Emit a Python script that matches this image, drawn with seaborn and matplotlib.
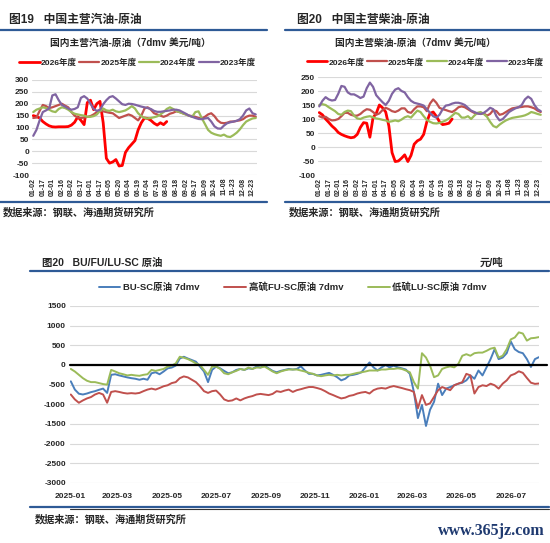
import matplotlib
matplotlib.use("Agg")
import matplotlib.dates as mdates
import matplotlib.pyplot as plt
import pandas as pd
import seaborn as sns
from matplotlib.lines import Line2D

W, H = 550, 543

# ---- top panels: trading-day index, 3 points per label interval ----
day_labels = ["01-02", "01-17", "02-01", "02-16", "03-02", "03-17", "04-01", "04-17",
              "05-05", "05-20", "06-04", "06-19", "07-04", "07-19", "08-03", "08-18",
              "09-02", "09-17", "10-09", "10-24", "11-08", "11-23", "12-08", "12-23"]
year_names = ["2026年度", "2025年度", "2024年度", "2023年度"]
year_colors = ["#FF0000", "#C0504D", "#9BBB59", "#8064A2"]

gasoline_2026 = [150, 146, 140, 125, 115, 107, 103, 102, 103, 103,
                 103, 104, 110, 122, 145, 130, 112, 205, 215, 175,
                 200, 210, 120, -30, -50, -45, -35, -62, -60, -5,
                 15, 30, 45, 90, 120, 140, 138, 130, 118, 110,
                 120, 112, 125]
gasoline_2025 = [140, 142, 170, 195, 190, 182, 185, 190, 195, 200,
                 192, 185, 165, 150, 142, 140, 142, 145, 148, 155,
                 165, 172, 168, 165, 162, 160, 150, 140, 145, 150,
                 155, 150, 140, 130, 150, 180, 185, 175, 160, 155,
                 150, 145, 150, 158, 162, 168, 165, 160, 155, 150,
                 148, 145, 140, 138, 145, 155, 160, 148, 130, 120,
                 118, 120, 125, 125, 128, 130, 135, 145, 150, 150,
                 145]
gasoline_2024 = [165, 175, 180, 185, 182, 175, 168, 165, 178, 185,
                 182, 175, 165, 158, 155, 152, 150, 145, 145, 148,
                 155, 170, 180, 172, 170, 175, 168, 165, 168, 172,
                 180, 190, 180, 160, 148, 140, 138, 140, 143, 147,
                 155, 165, 178, 185, 178, 170, 165, 160, 155, 150,
                 145, 165, 168, 140, 115, 90, 78, 72, 68, 65,
                 70, 62, 60, 68, 78, 92, 110, 125, 132, 138,
                 140]
gasoline_2023 = [65, 90, 130, 165, 172, 180, 235, 240, 215, 195,
                 188, 180, 175, 178, 185, 225, 232, 222, 200, 178,
                 170, 175, 198, 215, 228, 232, 222, 210, 198, 195,
                 200, 199, 196, 192, 188, 185, 182, 178, 170, 166,
                 166, 168, 170, 172, 175, 175, 172, 165, 158, 150,
                 145, 140, 136, 135, 138, 140, 125, 105, 96, 95,
                 108, 118, 122, 125, 128, 135, 150, 172, 180, 160,
                 155]

diesel_2026 = [123, 115, 100, 88, 75, 65, 52, 45, 40, 36,
               33, 35, 45, 70, 87, 85, 35, 105, 120, 150,
               140, 125, 75, -20, -52, -50, -40, -28, -52, -30,
               10, 22, 28, 45, 90, 120, 125, 110, 90, 80,
               82, 85, 100]
diesel_2025 = [110, 105, 108, 100, 95, 96, 100, 110, 122, 122,
               115, 112, 112, 118, 128, 135, 133, 125, 115, 120,
               132, 140, 135, 128, 125, 130, 138, 138, 125, 122,
               135, 145, 145, 142, 128, 155, 170, 158, 140, 135,
               132, 128, 125, 132, 142, 145, 142, 135, 128, 122,
               120, 118, 120, 112, 118, 132, 128, 115, 118, 125,
               132, 138, 140, 142, 143, 145, 145, 142, 138, 130,
               125]
diesel_2024 = [150, 153, 150, 142, 135, 128, 118, 115, 125, 130,
               128, 112, 102, 100, 105, 108, 110, 106, 102, 100,
               97, 95, 90, 92, 95, 92, 98, 106, 110, 105,
               118, 130, 125, 110, 97, 90, 85, 84, 86, 90,
               95, 102, 112, 122, 118, 105, 105, 110, 100, 112,
               122, 125, 118, 108, 90, 75, 70, 80, 88, 95,
               100, 104, 106, 108, 110, 113, 118, 125, 122, 118,
               115]
diesel_2023 = [145, 165, 178, 170, 166, 168, 190, 218, 215, 195,
               188, 188, 182, 175, 180, 210, 230, 215, 185, 172,
               160, 150, 165, 190, 205, 210, 200, 195, 178, 165,
               158, 155, 152, 148, 135, 122, 110, 105, 115, 135,
               148, 150, 155, 158, 158, 155, 150, 140, 130, 125,
               120, 118, 122, 130, 140, 135, 110, 95, 100, 112,
               125, 132, 138, 142, 150, 170, 180, 172, 150, 135,
               128]

# ---- bottom panel: one point every 5 days from 2025-01-02 ----
spread_dates = pd.date_range("2025-01-02", periods=117, freq="5D")
bu_sc = [-415, -625, -730, -750, -725, -690, -665, -630, -600, -710,
         -250, -235, -265, -290, -315, -335, -350, -375, -350, -375,
         -210, -185, -235, -165, -85, -65, -15, 165, 210, 165,
         125, 85, -40, -165, -435, -125, -40, -85, -150, -210,
         -185, -125, -100, -125, -85, -100, -40, -65, -15, -85,
         -150, -185, -150, -125, -100, -115, -100, -35, -140, -225,
         -225, -265, -250, -225, -200, -250, -310, -390, -350, -265,
         -250, -225, -185, -60, 65, -60, -140, -60, 0, -60,
         -15, -60, -85, -115, -225, -685, -1350, -1015, -1550, -1140,
         -935, -475, -765, -600, -560, -515, -475, -450, -390, -265,
         -350, -140, -265, -60, 150, 400, 150, 190, 300, 600,
         400, 330, 300, 150, -50, 150, 200]
fu_sc = [-750, -875, -960, -900, -850, -815, -750, -710, -750, -960,
         -685, -665, -685, -710, -725, -715, -725, -710, -665, -625,
         -600, -625, -585, -540, -515, -460, -435, -335, -290, -315,
         -375, -435, -540, -665, -710, -665, -650, -750, -875, -915,
         -900, -850, -900, -850, -815, -790, -750, -735, -750, -765,
         -735, -665, -685, -650, -625, -685, -640, -615, -585, -560,
         -560, -585, -615, -665, -725, -765, -810, -850, -830, -785,
         -765, -725, -700, -685, -725, -640, -600, -585, -600, -560,
         -535, -560, -585, -615, -640, -685, -1100, -765, -1015, -975,
         -810, -640, -560, -600, -640, -515, -475, -435, -225, -265,
         -725, -560, -515, -535, -475, -515, -600, -475, -390, -265,
         -225, -160, -200, -330, -450, -480, -470]
lu_sc = [-100, -165, -250, -335, -400, -435, -435, -460, -485, -500,
         -125, -165, -210, -235, -265, -250, -265, -275, -250, -235,
         -125, -150, -125, -100, -40, -15, 40, 210, 185, 150,
         100, 40, 0, -125, -250, -40, -40, -100, -210, -235,
         -185, -150, -100, -125, -65, -100, -65, -65, -40, -100,
         -165, -210, -165, -135, -115, -115, -115, -140, -165, -200,
         -225, -265, -285, -265, -250, -265, -250, -265, -250, -250,
         -225, -200, -185, -165, -140, -140, -140, -115, -115, -100,
         -100, -85, -100, -140, -185, -435, -600, 300, 190, -15,
         -310, -265, -100, -60, -35, -60, 25, 235, 275, 235,
         300, 315, 315, 360, 415, 440, 190, 235, 400, 650,
         700, 830, 800, 620, 680, 690, 710]
spread_names = ["BU-SC原油 7dmv", "高硫FU-SC原油 7dmv", "低硫LU-SC原油 7dmv"]
spread_colors = ["#4A7EBB", "#C0504D", "#9BBB59"]

sns.set_theme(style="white")
plt.rcParams["font.family"] = ["Liberation Sans", "Noto Sans CJK SC"]
plt.rcParams["axes.unicode_minus"] = False

NAVY = "#2E5A96"
GRID = "#D9D9D9"


def fx(x):
    return x / W


def fy(y):
    return 1 - y / H


def hline(fig, x0, x1, y, color=NAVY, lw=1.6):
    fig.add_artist(Line2D([fx(x0), fx(x1)], [fy(y), fy(y)], color=color, lw=lw,
                          transform=fig.transFigure))


def draw_year_panel(ax, series, yticks, legend_anchor):
    for name, values, color in zip(year_names, series, year_colors):
        lw = 2.0 if name == "2026年度" else 1.6
        sns.lineplot(x=list(range(len(values))), y=values, ax=ax, color=color,
                     linewidth=lw, label=name)
    ax.set_ylim(yticks[0], yticks[-1])
    ax.set_yticks(yticks)
    ax.set_yticklabels([str(v) for v in yticks], fontsize=6, fontweight="bold")
    ax.set_xticks(range(0, 70, 3))
    ax.set_xticklabels(day_labels, rotation=90, fontsize=5, fontweight="bold")
    ax.set_xlim(-0.4, 70.4)
    ax.yaxis.grid(True, color=GRID, lw=0.8)
    ax.xaxis.grid(False)
    for s in ax.spines.values():
        s.set_visible(False)
    ax.tick_params(length=0, pad=2)
    ax.set_xlabel("")
    ax.set_ylabel("")
    ax.legend(ncol=4, loc="center", bbox_to_anchor=legend_anchor, frameon=False,
              handlelength=2.4, handletextpad=0.1, columnspacing=0.3,
              prop={"weight": "bold", "size": 6.1})


fig = plt.figure(figsize=(5.5, 5.43), dpi=100)

# ---- left: gasoline ----
ax1 = fig.add_axes([fx(32), fy(175), fx(225), 95 / H])
draw_year_panel(ax1, [gasoline_2026, gasoline_2025, gasoline_2024, gasoline_2023],
                list(range(-100, 301, 50)), (0.47, 1.18))
fig.text(fx(9), fy(20), "图19   中国主营汽油-原油", fontsize=8.5, fontweight="bold", va="center")
hline(fig, 0, 267, 30)
fig.text(fx(130), fy(43), "国内主营汽油-原油（7dmv 美元/吨）", fontsize=7, fontweight="bold",
         ha="center", va="center")
hline(fig, 0, 267, 202)
fig.text(fx(3), fy(212), "数据来源：钢联、海通期货研究所", fontsize=7.3, fontweight="bold", va="center")

# ---- right: diesel ----
ax2 = fig.add_axes([fx(318), fy(175), fx(224), 98 / H])
draw_year_panel(ax2, [diesel_2026, diesel_2025, diesel_2024, diesel_2023],
                list(range(-100, 251, 50)), (0.48, 1.15))
fig.text(fx(297), fy(20), "图20   中国主营柴油-原油", fontsize=8.5, fontweight="bold", va="center")
hline(fig, 285, 550, 30)
fig.text(fx(415), fy(43), "国内主营柴油-原油（7dmv 美元/吨）", fontsize=7, fontweight="bold",
         ha="center", va="center")
hline(fig, 285, 550, 202)
fig.text(fx(289), fy(212), "数据来源：钢联、海通期货研究所", fontsize=7.3, fontweight="bold", va="center")

# ---- bottom: BU/FU/LU - SC spreads ----
ax3 = fig.add_axes([fx(70), fy(483), fx(469), 177 / H])
spread_df = pd.DataFrame({"date": spread_dates, spread_names[0]: bu_sc,
                          spread_names[1]: fu_sc, spread_names[2]: lu_sc})
for name, color in zip(spread_names, spread_colors):
    sns.lineplot(data=spread_df, x="date", y=name, ax=ax3, color=color, linewidth=1.4, label=name)
ax3.axhline(0, xmin=0, xmax=1.017, color="black", lw=1.6, clip_on=False, zorder=5)
ax3.set_ylim(-3000, 1500)
ax3.set_yticks(range(-3000, 1501, 500))
ax3.set_yticklabels([str(v) for v in range(-3000, 1501, 500)], fontsize=6, fontweight="bold")
ax3.set_xlim(pd.Timestamp("2025-01-01"), pd.Timestamp("2026-08-05"))
ax3.xaxis.set_major_locator(mdates.MonthLocator(bymonth=[1, 3, 5, 7, 9, 11]))
ax3.xaxis.set_major_formatter(mdates.DateFormatter("%Y-%m"))
for lab in ax3.get_xticklabels():
    lab.set_fontsize(6)
    lab.set_fontweight("bold")
ax3.yaxis.grid(True, color=GRID, lw=0.8)
ax3.xaxis.grid(False)
for s in ax3.spines.values():
    s.set_visible(False)
ax3.tick_params(axis="y", length=0, pad=3)
ax3.tick_params(axis="x", length=0, pad=7)
ax3.set_xlabel("")
ax3.set_ylabel("")
ax3.legend(ncol=3, loc="center", bbox_to_anchor=(0.475, 1.107), frameon=False,
           handlelength=2.3, handletextpad=0.3, columnspacing=2.6,
           prop={"weight": "bold", "size": 6.8})

fig.text(fx(42), fy(263), "图20   BU/FU/LU-SC 原油", fontsize=7.5, fontweight="bold", va="center")
fig.text(fx(503), fy(263), "元/吨", fontsize=7.5, fontweight="bold", va="center", ha="right")
hline(fig, 30, 549, 271)
hline(fig, 30, 549, 507)
hline(fig, 70, 549, 509, color="#333333", lw=0.8)
fig.text(fx(35), fy(519), "数据来源：钢联、海通期货研究所", fontsize=7.3, fontweight="bold", va="center")
fig.text(fx(545), fy(531), "www.365jz.com", fontsize=11.5, fontweight="bold", color="#1F3A70",
         family=["Liberation Serif"], ha="right", va="center")

fig.savefig("out.png", dpi=100)
